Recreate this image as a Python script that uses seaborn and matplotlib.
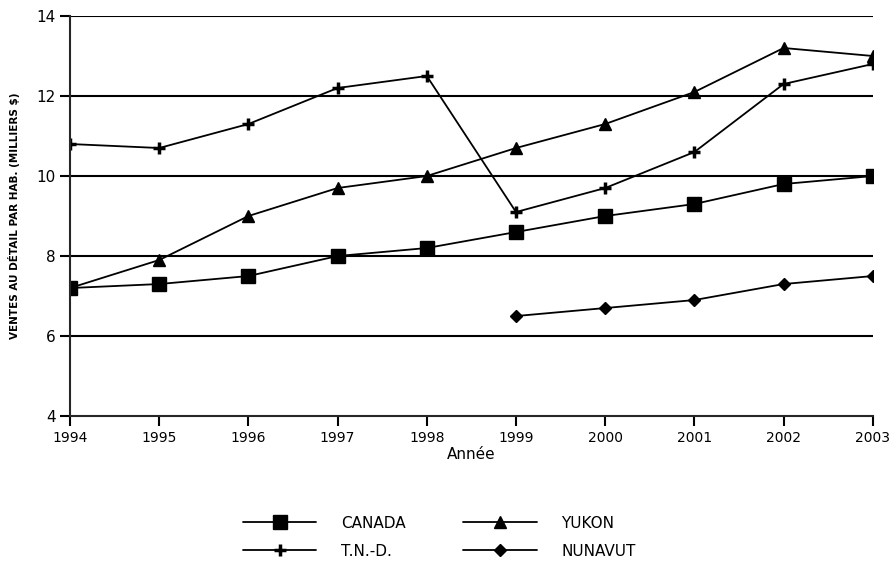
import matplotlib
matplotlib.use("Agg")
import matplotlib.pyplot as plt
import pandas as pd
import seaborn as sns

years = [1994, 1995, 1996, 1997, 1998, 1999, 2000, 2001, 2002, 2003]
canada = [7.2, 7.3, 7.5, 8.0, 8.2, 8.6, 9.0, 9.3, 9.8, 10.0]
yukon = [7.2, 7.9, 9.0, 9.7, 10.0, 10.7, 11.3, 12.1, 13.2, 13.0]
tnd = [10.8, 10.7, 11.3, 12.2, 12.5, 9.1, 9.7, 10.6, 12.3, 12.8]
nunavut_years = [1999, 2000, 2001, 2002, 2003]
nunavut = [6.5, 6.7, 6.9, 7.3, 7.5]

sns.set_style("white")
plt.rcParams['font.family'] = ['DejaVu Sans']
plt.rcParams['text.color'] = 'black'
plt.rcParams['axes.labelcolor'] = 'black'
plt.rcParams['xtick.color'] = 'black'
plt.rcParams['ytick.color'] = 'black'

fig = plt.figure(figsize=(8.94, 5.63), dpi=100)
ax = fig.add_axes([0.0783, 0.261, 0.898, 0.7106])

#Series
#------------------------------------------
series = [
    ("CANADA", years, canada, "s", 10, 1),
    ("T.N.-D.", years, tnd, "+", 9, 2.5),
    ("YUKON", years, yukon, "^", 8, 1),
    ("NUNAVUT", nunavut_years, nunavut, "D", 6, 1),
]
for name, xs, ys, mk, ms, mew in series:
    df = pd.DataFrame({"Année": xs, "val": ys})
    sns.lineplot(data=df, x="Année", y="val", ax=ax, color="black", linewidth=1.3,
                 marker=mk, markersize=ms, markeredgecolor="black",
                 markeredgewidth=mew, label=name)

#Axes
#------------------------------------------
ax.set_xlim(1994, 2003)
ax.set_ylim(4, 14)
ax.set_xticks(years)
ax.set_xticklabels([str(y) for y in years], fontsize=10)
ax.set_yticks([4, 6, 8, 10, 12, 14])
ax.set_yticklabels(["4", "6", "8", "10", "12", "14"], fontsize=11)
for v in [6, 8, 10, 12, 14]:
    ax.axhline(v, color="black", linewidth=1.5, zorder=0)
for s in ["top", "right"]:
    ax.spines[s].set_visible(False)
ax.spines["left"].set_linewidth(1.5)
ax.spines["bottom"].set_linewidth(1.5)
ax.tick_params(axis="both", direction="out", length=7, width=1.5, colors="black", bottom=True, left=True)
ax.set_xlabel("Année", fontsize=11, labelpad=2)
ax.set_ylabel("VENTES AU DÉTAIL PAR HAB. (MILLIERS $)", fontsize=7.5, fontweight="bold", labelpad=12)

#Legend
#------------------------------------------
handles, labels = ax.get_legend_handles_labels()
ax.legend(handles, labels, ncol=2, frameon=False, loc="upper center",
          bbox_to_anchor=(0.46, -0.215), fontsize=11, handlelength=4.8,
          handletextpad=1.6, columnspacing=3.8, labelspacing=0.85)

fig.savefig("out.png", dpi=100)
